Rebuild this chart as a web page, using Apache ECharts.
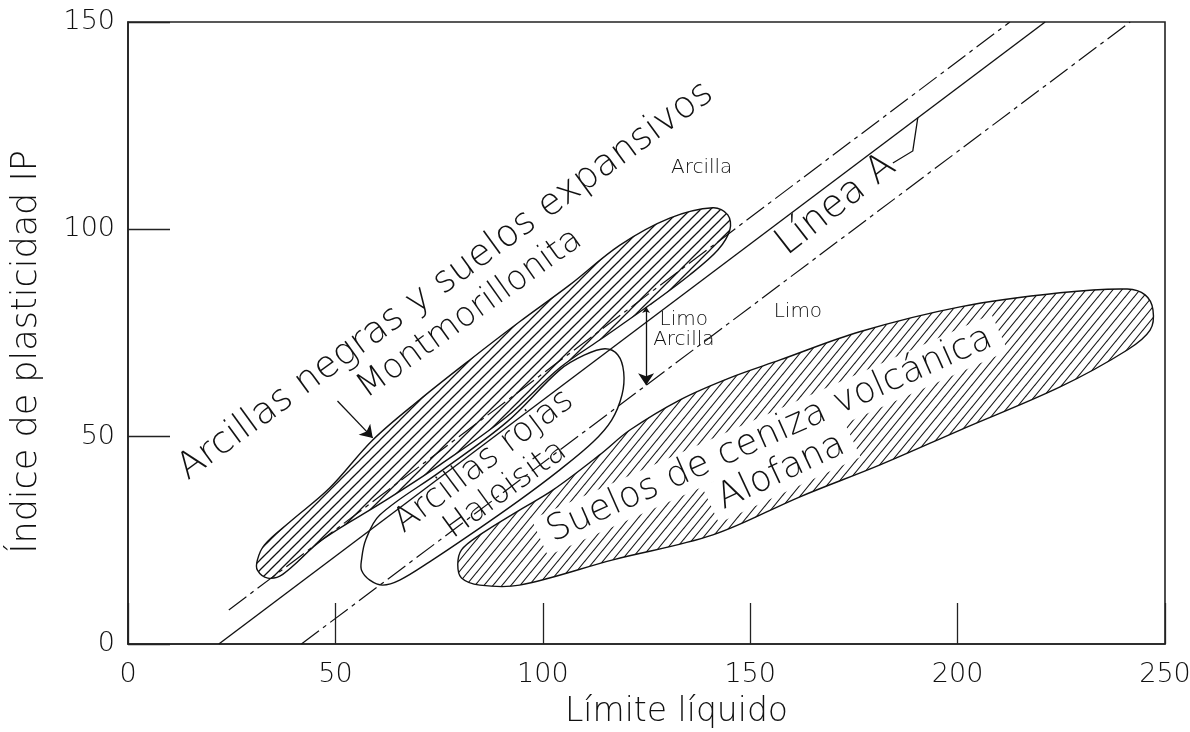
<!DOCTYPE html>
<html>
<head>
<meta charset="utf-8">
<script src="https://cdn.jsdelivr.net/npm/echarts@6/dist/echarts.min.js"></script>
<style>html,body{margin:0;padding:0;background:#fff}#c{width:1190px;height:732px}</style>
</head>
<body>
<div id="c"></div>
<script>
// ---- data (x = Límite líquido, y = Índice de plasticidad) ----
const xTickValues = [0, 50, 100, 150, 200, 250];
const yTickValues = [0, 50, 100, 150];
const lineA = [[21.9, 0], [221.1, 150]];
const upperBound = [[24.3, 8.2], [212.6, 150]];
const lowerBound = [[41.8, 0], [241.6, 150]];

const montmorillonita = [[31.2,20.3],[32.9,23.9],[39.0,29.4],[48.6,37.6],[59.0,49.2],[70.3,58.9],[82.4,68.5],[94.4,77.7],[106.5,86.6],[118.6,96.2],[130.6,102.7],[141.0,105.2],[144.6,103.5],[145.1,99.9],[142.2,95.0],[135.4,89.0],[125.8,81.8],[113.7,73.3],[104.1,66.6],[91.3,54.8],[75.2,43.2],[61.4,34.2],[46.9,25.2],[37.3,16.8],[33.7,15.9],[31.2,17.8]];
const haloisita = [[56.3,20.3],[57.3,25.1],[60.7,31.1],[75.2,41.5],[91.3,53.5],[104.1,66.1],[110.1,69.7],[115.0,71.2],[118.1,69.7],[119.5,65.6],[119.1,60.1],[116.6,54.0],[112.1,48.7],[104.1,42.0],[94.4,34.7],[82.4,26.3],[72.7,19.8],[65.5,15.4],[61.4,14.2],[58.3,15.4],[56.3,17.8]];
const alofana = [[79.5,19.1],[80.4,22.7],[84.8,26.3],[94.4,32.3],[102.4,37.1],[113.7,45.6],[121.0,51.6],[133.1,58.9],[145.1,64.2],[157.2,68.5],[176.4,75.3],[200.6,81.3],[224.7,84.7],[240.9,85.6],[245.2,84.2],[247.1,80.6],[246.4,75.7],[240.9,70.9],[224.7,62.0],[200.6,51.6],[181.3,43.2],[162.0,35.5],[141.0,26.3],[116.9,20.3],[94.4,14.2],[84.8,14.2],[80.4,15.9]];

const arrowMont = [[50.5, 58.6], [59.0, 49.7]];
const arrowLimoArcilla = [[124.9, 81.3], [124.9, 62.4]];
const leaderLineaA = [[184.4, 116.0], [189.2, 118.9], [190.4, 126.9]];

const labelTexts = ['Arcillas negras y suelos expansivos', 'Montmorillonita', 'Arcillas rojas', 'Haloisita',
  'Suelos de ceniza volcánica', 'Alofana', 'Línea A', 'Arcilla', 'Limo', 'Limo', 'Arcilla'];
const labelAnchors = [[76.6, 87.5], [82.4, 79.6], [85.8, 44.0], [91.0, 37.2],
  [154.7, 50.4], [157.5, 41.5], [170.7, 105.9], [138.3, 114.8], [161.5, 80.1], [134.0, 78.1], [134.0, 73.3]];
// ---- styling of annotations ----
const labelStyle = [
  {angle: 36, size: 37}, {angle: 35.5, size: 34}, {angle: 37, size: 34}, {angle: 36, size: 33},
  {angle: 24, size: 36, bg: true}, {angle: 25, size: 36, bg: true}, {angle: 38, size: 38},
  {angle: 0, size: 20}, {angle: 0, size: 20}, {angle: 0, size: 20}, {angle: 0, size: 20}
];

function hatch(w, h, lw) {
  const c = document.createElement('canvas');
  c.width = w; c.height = h;
  const g = c.getContext('2d');
  g.strokeStyle = '#111';
  g.lineWidth = lw;
  for (let k = 0; k <= 2; k++) {
    g.beginPath();
    g.moveTo(-w + k * w - w, h + h);
    g.lineTo(k * w + w, -h);
    g.stroke();
  }
  return c;
}
const hatchMont = hatch(10, 10, 1.25);
const hatchAlo = hatch(9, 11, 1.1);

function polySeries(name, pts, fill, z) {
  return {
    type: 'custom', name: name, data: pts, z: z, silent: true,
    renderItem: function (params, api) {
      if (params.dataIndex !== 0) return null;
      const p = pts.map(function (d) { return api.coord(d); });
      return {type: 'polygon', shape: {points: p, smooth: 0.35},
        style: {fill: fill, stroke: '#111', lineWidth: 1.4}};
    }
  };
}

const font = '"DejaVu Sans", sans-serif';
const chart = echarts.init(document.getElementById('c'), null, {renderer: 'canvas'});
chart.setOption({
  backgroundColor: '#fff',
  animation: false,
  grid: {left: 128, top: 22, width: 1037, height: 622, containLabel: false, outerBoundsMode: 'none',
    show: true, borderColor: '#222', borderWidth: 1.6, backgroundColor: 'transparent'},
  xAxis: {
    type: 'value', min: 0, max: 250, interval: 50,
    name: 'Límite líquido', nameLocation: 'middle', nameGap: 52,
    nameTextStyle: {fontFamily: font, fontSize: 33, fontWeight: 200, color: '#111', padding: [0, 0, 0, 60]},
    axisLine: {show: true, onZero: false, lineStyle: {color: '#222', width: 1.6}},
    axisTick: {show: true, inside: true, length: 41, lineStyle: {color: '#222', width: 1.3}},
    axisLabel: {fontFamily: font, fontSize: 27, fontWeight: 200, color: '#111', margin: 17,
      formatter: function (v) { return xTickValues.indexOf(v) >= 0 ? String(v) : ''; }},
    splitLine: {show: false}
  },
  yAxis: {
    type: 'value', min: 0, max: 150, interval: 50,
    name: 'Índice de plasticidad IP', nameLocation: 'middle', nameGap: 84,
    nameTextStyle: {fontFamily: font, fontSize: 35, fontWeight: 200, color: '#111', padding: [0, 38, 0, 0]},
    axisLine: {show: true, onZero: false, lineStyle: {color: '#222', width: 1.6}},
    axisTick: {show: true, inside: true, length: 42, lineStyle: {color: '#222', width: 1.3}},
    axisLabel: {fontFamily: font, fontSize: 27, fontWeight: 200, color: '#111', margin: 13,
      formatter: function (v) { return yTickValues.indexOf(v) >= 0 ? String(v) : ''; }},
    splitLine: {show: false}
  },
  series: [
    polySeries('Haloisita', haloisita, '#fff', 2),
    polySeries('Montmorillonita', montmorillonita, {image: hatchMont, repeat: 'repeat'}, 3),
    polySeries('Alofana', alofana, {image: hatchAlo, repeat: 'repeat'}, 4),
    {type: 'line', data: lineA, showSymbol: false, symbol: 'none', silent: true, z: 5,
      lineStyle: {color: '#111', width: 1.4}},
    {type: 'line', data: upperBound, showSymbol: false, symbol: 'none', silent: true, z: 5,
      lineStyle: {color: '#111', width: 1.2, type: [22, 5, 4, 5]}},
    {type: 'line', data: lowerBound, showSymbol: false, symbol: 'none', silent: true, z: 5,
      lineStyle: {color: '#111', width: 1.2, type: [22, 5, 4, 5]}},
    {type: 'lines', coordinateSystem: 'cartesian2d', silent: true, z: 6,
      lineStyle: {color: '#111', width: 1.3, opacity: 1},
      symbol: ['none', 'arrow'], symbolSize: [6, 12],
      data: [{coords: arrowMont}]},
    {type: 'lines', coordinateSystem: 'cartesian2d', silent: true, z: 6,
      lineStyle: {color: '#111', width: 1.3, opacity: 1},
      symbol: ['arrow', 'arrow'], symbolSize: [6, 12],
      data: [{coords: arrowLimoArcilla}]},
    {type: 'lines', coordinateSystem: 'cartesian2d', polyline: true, silent: true, z: 6,
      lineStyle: {color: '#111', width: 1.3, opacity: 1},
      symbol: ['none', 'arrow'], symbolSize: [6, 12],
      data: [{coords: leaderLineaA}]},
    {type: 'custom', data: labelAnchors, z: 7, silent: true,
      renderItem: function (params, api) {
        const i = params.dataIndex;
        const p = api.coord(labelAnchors[i]);
        const st = labelStyle[i];
        return {type: 'text', x: p[0], y: p[1], rotation: st.angle * Math.PI / 180,
          style: {text: labelTexts[i], font: '200 ' + st.size + 'px ' + font, fill: '#111',
            align: 'center', verticalAlign: 'middle',
            backgroundColor: st.bg ? '#fff' : null, padding: st.bg ? [2, 10] : 0}};
      }}
  ]
});
</script>
</body>
</html>
